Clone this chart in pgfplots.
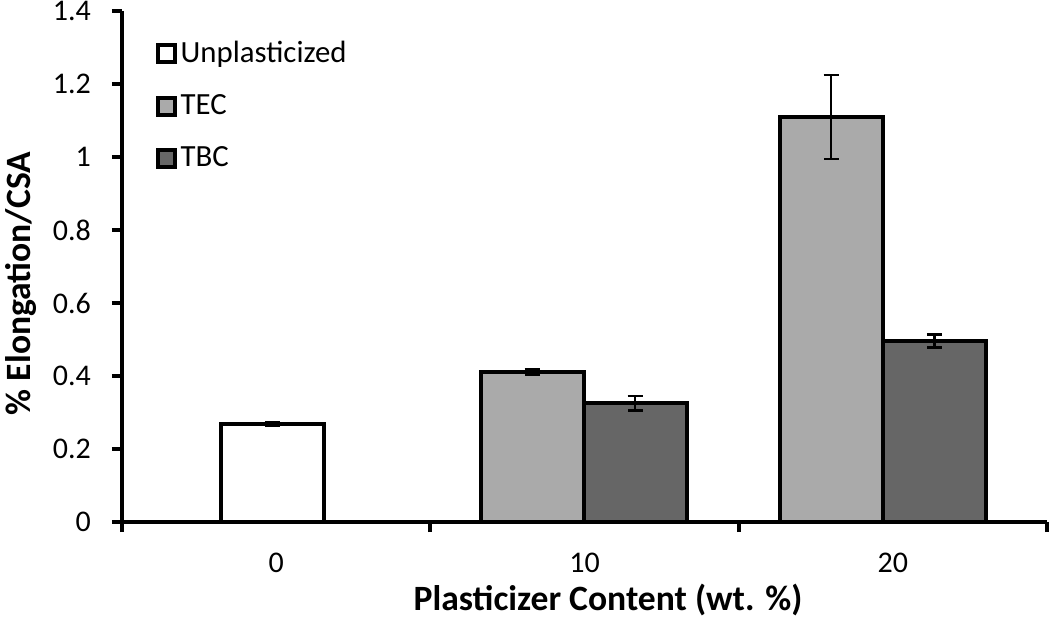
\documentclass[border=0pt]{standalone}
\usepackage{pgfplots}
\pgfplotsset{compat=1.18}
\usepackage{fontspec}
\setmainfont{Carlito}
\definecolor{tecgray}{RGB}{170,170,170}
\definecolor{tbcgray}{RGB}{102,102,102}
\begin{document}
\begin{tikzpicture}
\begin{axis}[
  scale only axis,
  width=462.5pt, height=255.5pt,
  xmin=-0.5, xmax=2.5, ymin=0, ymax=1.4,
  axis x line=bottom, axis y line=left,
  axis line style={-, line width=2pt},
  tick align=outside,
  major tick length=5pt,
  tick style={line width=2pt, black},
  xtick={-0.5,0.5,1.5,2.5}, xticklabels={},
  extra x ticks={0,1,2}, extra x tick labels={0,10,20},
  extra x tick style={major tick length=0pt, tick style={draw=none},
     xticklabel style={yshift=-12pt}},
  ytick={0,0.2,0.4,0.6,0.8,1,1.2,1.4},
  /pgf/number format/assume math mode=true,
  ticklabel style={font=\fontsize{15}{18}\selectfont},
  yticklabel shift=7pt,
  xlabel={\textbf{Plasticizer Content (wt. \%)}},
  ylabel={\textbf{\% Elongation/CSA}},
  xlabel style={font=\fontsize{17.8}{21}\selectfont, xshift=11.75pt, yshift=6pt},
  ylabel style={font=\fontsize{17.8}{21}\selectfont, at={(axis description cs:0,0.5)}, anchor=center, rotate=0, yshift=50.5pt, xshift=-8.5pt},
  legend style={draw=none, fill=none, at={(axis description cs:0.036,0.949)}, anchor=north west,
     font=\fontsize{15.4}{18}\selectfont, row sep=10.5pt, inner sep=0pt},
  legend cell align=left,
  legend image code/.code={\draw[#1, line width=2pt] (0pt,-4.25pt) rectangle (8.5pt,4.25pt);},
  clip=false,
]
\addplot[ybar, bar width=0.334, bar shift=0pt, fill=white, draw=black, line width=2pt,
  error bars/.cd, y dir=both, y explicit,
  error bar style={line width=1.2pt, black},
  error mark options={rotate=90, mark size=3.75pt, line width=1.2pt, black}]
  coordinates {(-0.012,0.268) +- (0,0.005)};
\addlegendentry{Unplasticized}
\addplot[ybar, bar width=0.334, bar shift=0pt, fill=tecgray, draw=black, line width=2pt,
  error bars/.cd, y dir=both, y explicit,
  error bar style={line width=1.2pt, black},
  error mark options={rotate=90, mark size=3.75pt, line width=1.2pt, black}]
  coordinates {(0.83,0.411) +- (0,0.008) (1.80,1.110) +- (0,0.115)};
\addlegendentry{TEC}
\addplot[ybar, bar width=0.334, bar shift=0pt, fill=tbcgray, draw=black, line width=2pt,
  error bars/.cd, y dir=both, y explicit,
  error bar style={line width=1.2pt, black},
  error mark options={rotate=90, mark size=3.75pt, line width=1.2pt, black}]
  coordinates {(1.164,0.326) +- (0,0.02) (2.135,0.496) +- (0,0.018)};
\addlegendentry{TBC}
\end{axis}
\pgfresetboundingbox
\path ([shift={(-61pt,-48pt)}]current axis.south west) rectangle ([shift={(1.5pt,5.5pt)}]current axis.north east);
\end{tikzpicture}
\end{document}
